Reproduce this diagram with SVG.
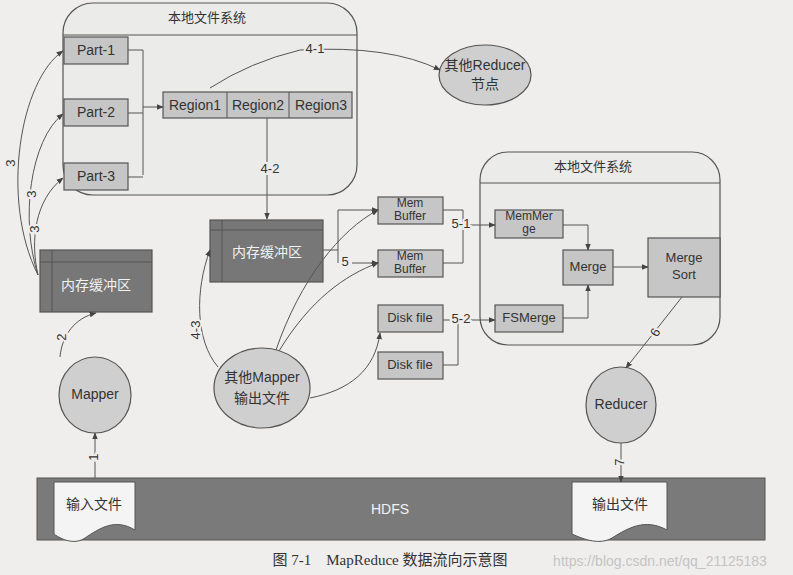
<svg xmlns="http://www.w3.org/2000/svg" width="793" height="575" viewBox="0 0 793 575">
<defs>
<marker id="ar" viewBox="0 0 10 10" refX="9" refY="5" markerWidth="7" markerHeight="7" orient="auto-start-reverse"><path d="M0,1 L10,5 L0,9 z" fill="#444"/></marker>
</defs>
<style>
text{font-family:"Liberation Sans","Noto Sans CJK SC",sans-serif;fill:#333;text-anchor:middle;dominant-baseline:middle}
.box{fill:#c6c6c6;stroke:#555;stroke-width:1.2}
.fs{fill:#ebebea;stroke:#555;stroke-width:1.2}
.dark{fill:#777;stroke:#555;stroke-width:1.2}
.ell{fill:#cfcfcf;stroke:#555;stroke-width:1.2}
.ln{fill:none;stroke:#555;stroke-width:1}
.arr{fill:none;stroke:#555;stroke-width:1;marker-end:url(#ar)}
.t14{font-size:14px}
.t13{font-size:13px}
.t12{font-size:12px}
.lbl{font-size:13px;paint-order:stroke;stroke:#efeeec;stroke-width:4px}
.lblf{font-size:13px;paint-order:stroke;stroke:#ebebea;stroke-width:4px}
.wt{fill:#f2f2f2;font-size:14px}
</style>
<rect width="793" height="575" fill="#efeeec"/>

<g id="fs1"><rect class="fs" x="63" y="3" width="294" height="192" rx="30"/><line class="ln" x1="63" y1="35" x2="357" y2="35"/><text x="207" y="19" class="t13">本地文件系统</text></g>
<g id="part1"><rect class="box" x="64" y="37" width="64" height="27"/><text x="96" y="51" class="t14">Part-1</text></g>
<g id="part2"><rect class="box" x="64" y="99" width="64" height="27"/><text x="96" y="113" class="t14">Part-2</text></g>
<g id="part3"><rect class="box" x="64" y="163" width="64" height="27"/><text x="96" y="177" class="t14">Part-3</text></g>
<g id="region"><rect class="box" x="163" y="92" width="189" height="26"/><line class="ln" x1="227" y1="92" x2="227" y2="118"/><line class="ln" x1="289" y1="92" x2="289" y2="118"/><text x="195" y="106" class="t14">Region1</text><text x="258" y="106" class="t14">Region2</text><text x="321" y="106" class="t14">Region3</text></g>
<g id="otherReducer"><ellipse class="ell" cx="485" cy="75" rx="46" ry="30"/><text x="485" y="66" class="t14">其他Reducer</text><text x="485" y="85" class="t14">节点</text></g>
<g id="buf2"><rect class="dark" x="210" y="220" width="113" height="62"/><line class="ln" x1="222" y1="220" x2="222" y2="282"/><line class="ln" x1="210" y1="230" x2="323" y2="230"/><text x="267" y="253" class="wt">内存缓冲区</text></g>
<g id="buf1"><rect class="dark" x="40" y="250" width="112" height="62"/><line class="ln" x1="52" y1="250" x2="52" y2="312"/><line class="ln" x1="40" y1="262" x2="152" y2="262"/><text x="96" y="286" class="wt">内存缓冲区</text></g>
<g id="mapper"><ellipse class="ell" cx="95" cy="395" rx="36" ry="38"/><text x="95" y="395" class="t14">Mapper</text></g>
<g id="otherMapper"><ellipse class="ell" cx="262" cy="388" rx="48" ry="40"/><text x="262" y="378" class="t14">其他Mapper</text><text x="262" y="399" class="t14">输出文件</text></g>
<g id="mem1"><rect class="box" x="378" y="197" width="65" height="27"/><text x="410" y="204" class="t12">Mem</text><text x="410" y="217" class="t12">Buffer</text></g>
<g id="mem2"><rect class="box" x="378" y="250" width="65" height="27"/><text x="410" y="257" class="t12">Mem</text><text x="410" y="270" class="t12">Buffer</text></g>
<g id="disk1"><rect class="box" x="378" y="305" width="65" height="27"/><text x="410" y="319" class="t13">Disk file</text></g>
<g id="disk2"><rect class="box" x="378" y="352" width="65" height="27"/><text x="410" y="366" class="t13">Disk file</text></g>
<g id="fs2"><rect class="fs" x="480" y="152" width="240" height="193" rx="28"/><line class="ln" x1="480" y1="183" x2="720" y2="183"/><text x="593" y="168" class="t13">本地文件系统</text></g>
<g id="memmerge"><rect class="box" x="495" y="210" width="68" height="28"/><text x="529" y="217" class="t12">MemMer</text><text x="529" y="230" class="t12">ge</text></g>
<g id="merge"><rect class="box" x="563" y="250" width="50" height="35"/><text x="588" y="268" class="t13">Merge</text></g>
<g id="fsmerge"><rect class="box" x="495" y="305" width="68" height="27"/><text x="529" y="319" class="t13">FSMerge</text></g>
<g id="mergesort"><rect class="box" x="648" y="238" width="72" height="59"/><text x="684" y="259" class="t13">Merge</text><text x="684" y="276" class="t13">Sort</text></g>
<g id="reducer"><ellipse class="ell" cx="621" cy="405" rx="35" ry="38"/><text x="621" y="405" class="t14">Reducer</text></g>
<g id="hdfs"><rect x="37" y="478" width="728" height="62" fill="#7a7a7a" stroke="#555"/><text x="390" y="510" class="wt">HDFS</text></g>
<g id="inputFile"><path d="M54,482 H135 V530 C115,518 100,528 85,538 C75,545 62,540 54,534 Z" fill="#f4f4f4" stroke="#555"/><text x="94" y="505" class="t14">输入文件</text></g>
<g id="outputFile"><path d="M572,482 H667 V530 C645,518 628,528 612,538 C600,545 585,540 572,534 Z" fill="#f4f4f4" stroke="#555"/><text x="620" y="505" class="t14">输出文件</text></g>

<g id="connectors">
<path class="ln" d="M128,50 H143 V175 M128,113 H143 M128,177 H143"/>
<path class="arr" d="M143,107 H163"/>
<path class="arr" d="M210,88 Q250,62 300,50 Q390,45 440,70"/>
<path class="arr" d="M267,118 V219"/>
<path class="arr" d="M38,275 C0,200 20,80 63,51"/>
<path class="arr" d="M38,275 C20,220 30,140 63,114"/>
<path class="arr" d="M38,275 C30,240 35,200 63,178"/>
<path class="arr" d="M60,357 C62,335 75,318 96,313"/>
<path class="arr" d="M95,478 V433"/>
<path class="arr" d="M218,367 C195,340 195,290 210,250"/>
<path class="arr" d="M276,350 C300,280 340,230 378,210"/>
<path class="arr" d="M279,351 C310,300 345,275 378,263"/>
<path class="arr" d="M310,398 C350,390 375,370 380,333"/>
<path class="ln" d="M323,250 H338 V210 M338,250 V263"/>
<path class="arr" d="M338,210 H378"/>
<path class="arr" d="M352,263 H378"/>
<path class="ln" d="M443,210 H463 V263 H443"/>
<path class="arr" d="M470,225 H495"/>
<path class="arr" d="M563,225 H588 V250"/>
<path class="arr" d="M563,318 H588 V285"/>
<path class="arr" d="M613,267 H648"/>
<path class="arr" d="M443,320 H495"/>
<path class="ln" d="M443,365 H458 V320"/>
<path class="arr" d="M682,297 L626,368"/>
<path class="arr" d="M621,443 V482"/>
<text x="315" y="50" class="lblf">4-1</text>
<text x="270" y="170" class="lblf">4-2</text>
<text x="345" y="263" class="lbl">5</text>
<text x="461" y="225" class="lbl">5-1</text>
<text x="461" y="320" class="lbl">5-2</text>
<text x="12" y="163" class="lbl" transform="rotate(-90 12 163)">3</text>
<text x="33" y="194" class="lbl" transform="rotate(-90 33 194)">3</text>
<text x="36" y="229" class="lbl" transform="rotate(-90 36 229)">3</text>
<text x="63" y="337" class="lbl" transform="rotate(-90 63 337)">2</text>
<text x="95" y="457" class="lbl" transform="rotate(-90 95 457)">1</text>
<text x="197" y="330" class="lbl" transform="rotate(-90 197 330)">4-3</text>
<text x="656" y="333" class="lbl" transform="rotate(-60 656 333)">6</text>
<text x="621" y="462" class="lbl" transform="rotate(-90 621 462)">7</text>
</g>
<text x="390" y="562" style="font-family:'Liberation Serif','Noto Sans CJK SC',serif;font-size:15px;white-space:pre">图 7-1    MapReduce 数据流向示意图</text>
<text x="660" y="562" style="font-size:14px;fill:#c4c4c4">https://blog.csdn.net/qq_21125183</text>
</svg>
